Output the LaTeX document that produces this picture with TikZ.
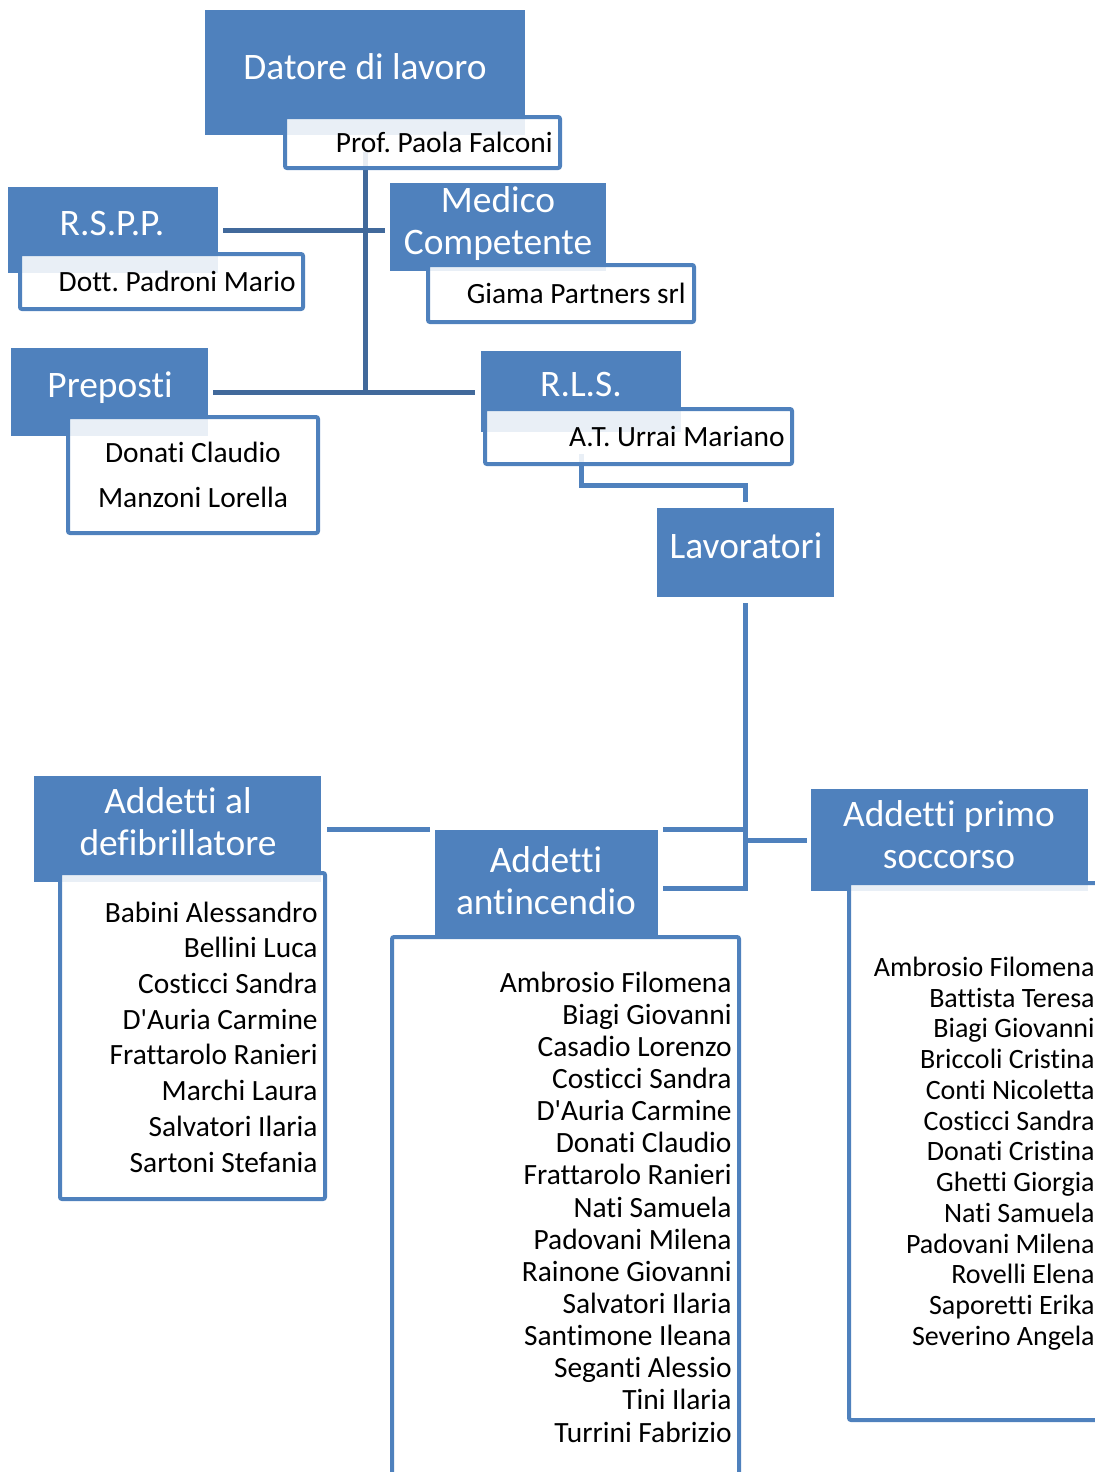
\documentclass[tikz,border=0pt]{standalone}
\usepackage{fontspec}
\setmainfont{Carlito}[Ligatures=CommonOff]
\usetikzlibrary{backgrounds}
\definecolor{orgblue}{HTML}{4F81BD}
\definecolor{linkblue}{HTML}{41699B}
\frenchspacing

\begin{document}
\begin{tikzpicture}[
  x=0.5pt,y=-0.5pt,
  role/.style={fill=orgblue,inner sep=0pt},
  roletxt/.style={text=white,align=center,inner sep=0pt,font=\fontsize{18.7}{21}\selectfont},
  namebox/.style={draw=orgblue,line width=2pt,fill=white,fill opacity=0.88,rounded corners=1pt,inner sep=0pt},
  names/.style={inner sep=0pt,align=right,font=\fontsize{14.7}{16.1}\selectfont},
  link/.style={draw=linkblue,line width=2.5pt},
  link2/.style={draw=orgblue,line width=2.5pt}
]
\useasboundingbox (0,0) rectangle (1094,1472);

% ruoli
\node[role,minimum width=160pt,minimum height=62.5pt] (datore) at (365,72.5) {};
\node[role,minimum width=105pt,minimum height=43pt] (rspp) at (113,230) {};
\node[role,minimum width=108pt,minimum height=44pt] (medico) at (498,227) {};
\node[role,minimum width=98.5pt,minimum height=44pt] (preposti) at (109.5,392) {};
\node[role,minimum width=100pt,minimum height=40.5pt] (rls) at (581,391.5) {};
\node[role,minimum width=88.5pt,minimum height=44.5pt] (lavoratori) at (745.5,552.5) {};
\node[role,minimum width=143.5pt,minimum height=53pt] (defib) at (177.5,829) {};
\node[role,minimum width=111.5pt,minimum height=54pt] (antinc) at (546.5,884) {};
\node[role,minimum width=138.5pt,minimum height=51pt] (primo) at (949.5,840) {};

\node[roletxt] (datoreT) at (365,67) {Datore di lavoro};
\node[roletxt] (rsppT) at (112,223.5) {R.S.P.P.};
\node[roletxt] (medicoT) at (498,224) {Medico\\Competente};
\node[roletxt,text depth=0pt] (prepostiT) at (110,385) {Preposti};
\node[roletxt] (rlsT) at (581,385) {R.L.S.};
\node[roletxt] (lavoratoriT) at (746,546) {Lavoratori};
\node[roletxt] (defibT) at (178,822) {Addetti al\\defibrillatore};
\node[roletxt] (antincT) at (546,880.5) {Addetti\\antincendio};
\node[roletxt] (primoT) at (949,835) {Addetti primo\\soccorso};

% caselle nomi
\node[namebox,minimum width=137.5pt,minimum height=25.5pt] (falconiB) at (422.5,142.5) {};
\node[namebox,minimum width=141.5pt,minimum height=27.5pt] (padroniB) at (161.5,281.5) {};
\node[namebox,minimum width=133pt,minimum height=28.5pt] (giamaB) at (561,293.5) {};
\node[namebox,minimum width=125pt,minimum height=58pt] (prepostiB) at (193,475) {};
\node[namebox,minimum width=153.5pt,minimum height=27.5pt] (urraiB) at (638.5,436.5) {};
\node[namebox,minimum width=132.5pt,minimum height=163pt] (defibB) at (192.5,1036) {};
\node[namebox,minimum width=173.5pt,minimum height=271.5pt] (antincB) at (565.5,1208.5) {};
\node[namebox,minimum width=130.5pt,minimum height=268.5pt] (primoB) at (979.5,1151.5) {};

\node[names,anchor=east] (falconi) at (553,142) {Prof. Paola Falconi};
\node[names,anchor=east] (padroni) at (296,281) {Dott. Padroni Mario};
\node[names,anchor=east] (giama) at (686,293) {Giama Partners srl};
\node[names,align=center,font=\fontsize{14.7}{22.5}\selectfont] (prepostiN) at (193,474.5) {Donati Claudio\\Manzoni Lorella};
\node[names,anchor=east] (urrai) at (785,436) {A.T. Urrai Mariano};
\node[names,anchor=east,font=\fontsize{14.7}{17.86}\selectfont] (defibN) at (318,1037)
  {Babini Alessandro\\Bellini Luca\\Costicci Sandra\\D\textquotesingle Auria Carmine\\Frattarolo Ranieri\\Marchi Laura\\Salvatori Ilaria\\Sartoni Stefania};
\node[names,anchor=east,font=\fontsize{14.7}{16.07}\selectfont] (antincN) at (732,1207)
  {Ambrosio Filomena\\Biagi Giovanni\\Casadio Lorenzo\\Costicci Sandra\\D\textquotesingle Auria Carmine\\Donati Claudio\\Frattarolo Ranieri\\Nati Samuela\\Padovani Milena\\Rainone Giovanni\\Salvatori Ilaria\\Santimone Ileana\\Seganti Alessio\\Tini Ilaria\\Turrini Fabrizio};
\node[names,anchor=east,font=\fontsize{14}{15.375}\selectfont] (primoN) at (1095,1153.5)
  {Ambrosio Filomena\\Battista Teresa\\Biagi Giovanni\\Briccoli Cristina\\Conti Nicoletta\\Costicci Sandra\\Donati Cristina\\Ghetti Giorgia\\Nati Samuela\\Padovani Milena\\Rovelli Elena\\Saporetti Erika\\Severino Angela};

% collegamenti
\begin{scope}[on background layer]
\draw[link] ([yshift=9pt]datore.south |- falconiB.south) -- (datore.south |- preposti.east);
\draw[link,shorten <=2.5pt,shorten >=2.5pt] (rspp.east) -- (rspp.east -| medico.west);
\draw[link,shorten <=2.5pt,shorten >=3pt] (preposti.east) -- (preposti.east -| rls.west);
\draw[link2,shorten >=3pt] ([yshift=6pt]rls.south |- urraiB.south) -- ++(0,31) -| (lavoratori.north);
\draw[link2,shorten <=3pt,shorten >=2.5pt] (lavoratori.south) |- ([yshift=-2pt]antinc.east);
\draw[link2,shorten <=3pt,shorten >=2.5pt] (defib.east) -- (defib.east -| antinc.west);
\draw[link2,shorten <=2.5pt] (defib.east -| antinc.east) -- (defib.east -| lavoratori.south);
\draw[link2,shorten >=2pt] (lavoratori.south |- primo.west) -- (primo.west);
\end{scope}
\end{tikzpicture}
\end{document}
